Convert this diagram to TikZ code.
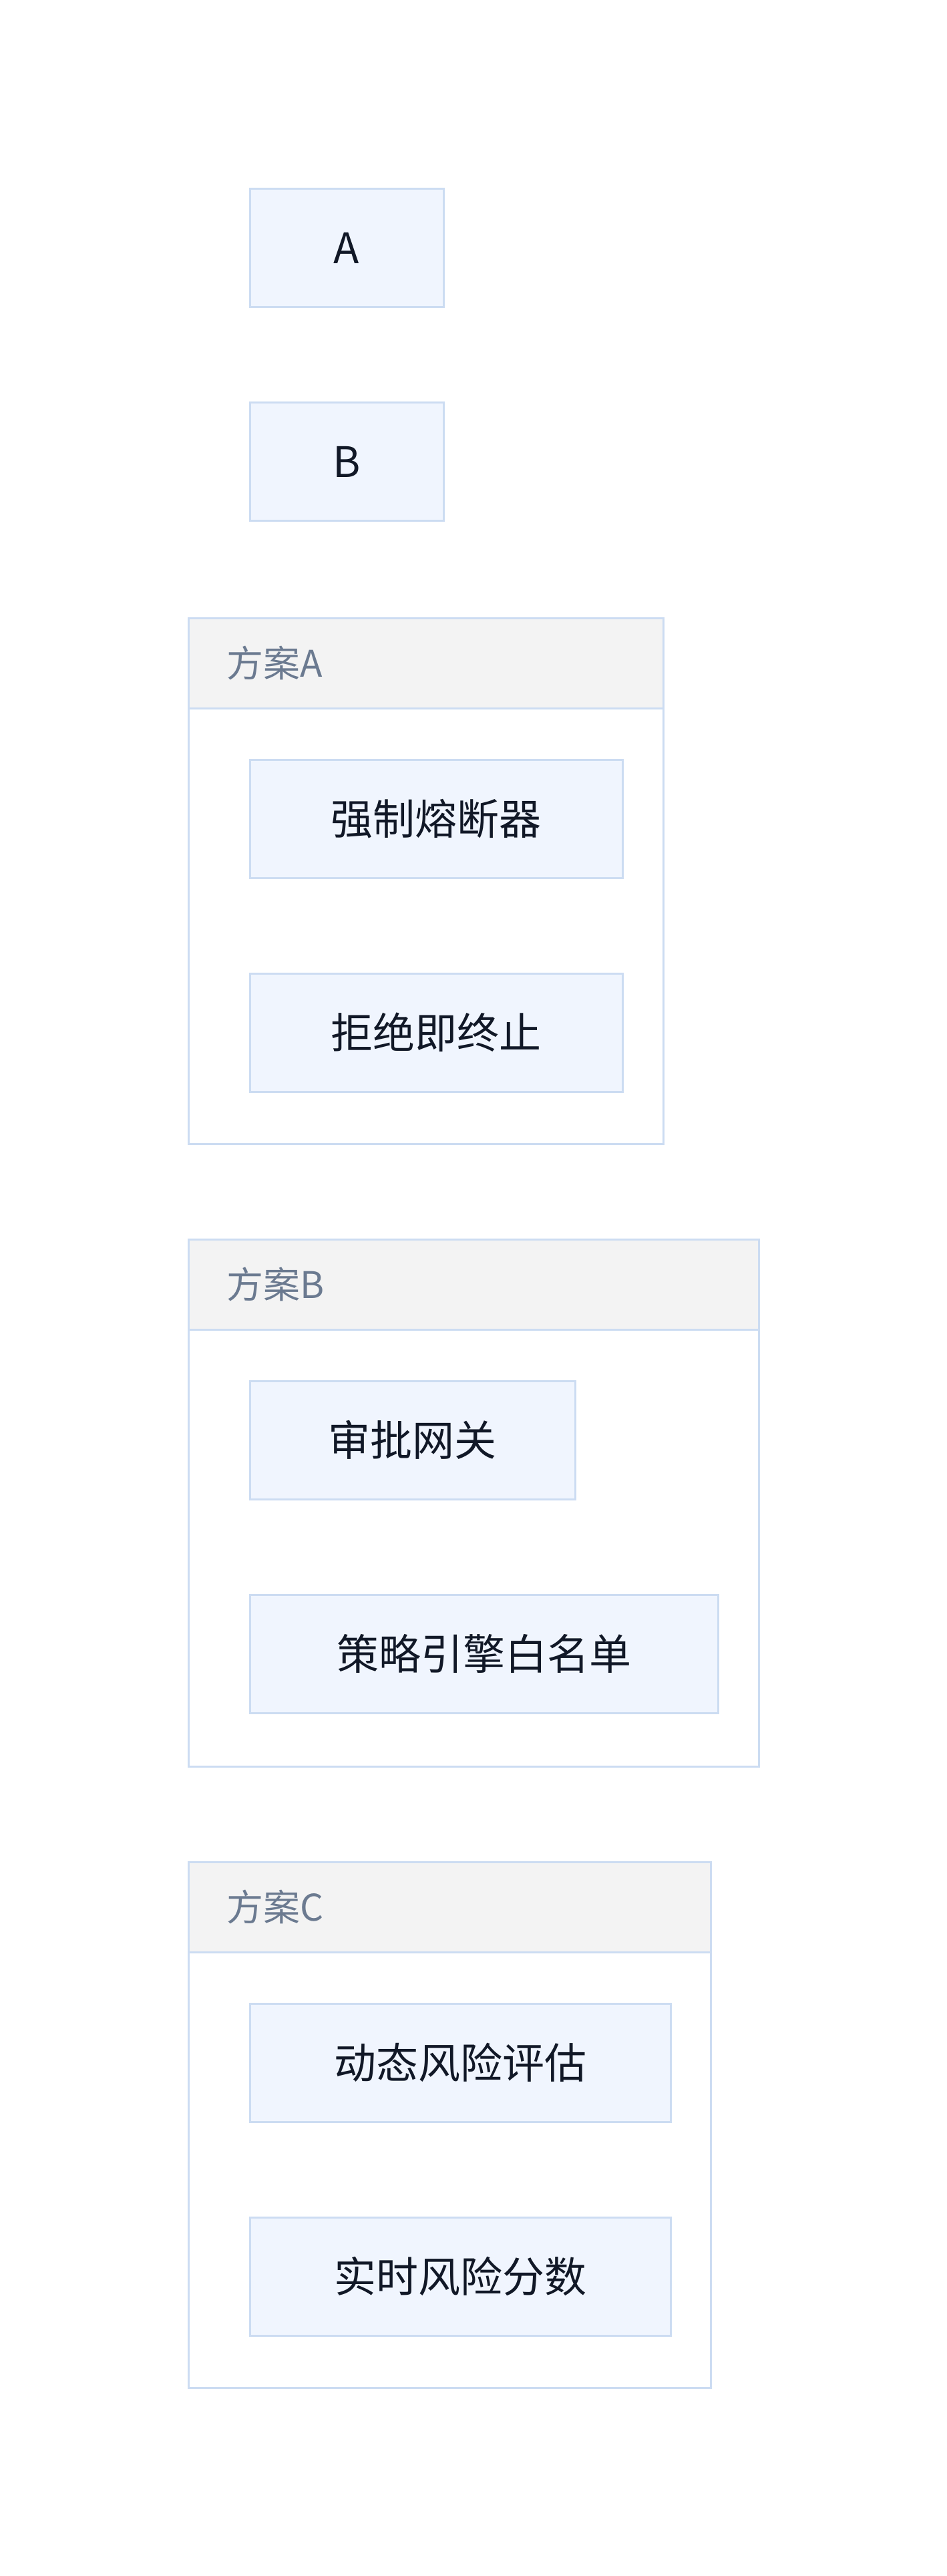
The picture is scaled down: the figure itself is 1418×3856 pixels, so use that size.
\documentclass[tikz,border=0pt]{standalone}
\usepackage{fontspec}
\setmainfont{Noto Sans CJK SC}
\usetikzlibrary{positioning}

\definecolor{boxfill}{HTML}{F0F5FE}
\definecolor{boxline}{HTML}{CCDCF2}
\definecolor{headfill}{HTML}{F3F3F3}
\definecolor{headtext}{HTML}{6B7A90}
\definecolor{ink}{HTML}{111827}

\tikzset{
	stagebox/.style={draw=boxline, fill=boxfill, line width=3pt, outer sep=0pt, inner sep=0pt,
		minimum height=177pt, text=ink, font=\fontsize{63}{76}\selectfont},
	planframe/.style={draw=boxline, fill=white, line width=3pt, outer sep=0pt, inner sep=0pt, anchor=north west},
	planhead/.style={draw=boxline, fill=headfill, line width=3pt, outer sep=0pt, inner sep=0pt,
		anchor=north west, minimum height=135pt},
	plantitle/.style={text=headtext, font=\fontsize{55}{66}\selectfont, anchor=west, inner sep=0pt},
}

\begin{document}
\begin{tikzpicture}[x=1pt, y=1pt]
	\useasboundingbox[fill=white] (0,0) rectangle (1418,-3856);
	\node[stagebox, minimum width=290pt] (A) at (519,-371) {A};
	\node[stagebox, minimum width=290pt, below=143pt of A] (B) {B};
	% plan A
	\node[planframe, minimum width=711pt, minimum height=787pt] (planA) at (282,-925) {};
	\node[planhead, minimum width=711pt] (planAhead) at (planA.north west) {};
	\node[plantitle] (planAtitle) at ([xshift=57pt]planAhead.west) {方案A};
	\node[stagebox, minimum width=558pt, anchor=north west] (fuse) at ([xshift=92pt, yshift=-77pt]planAhead.south west) {强制熔断器};
	\node[stagebox, minimum width=558pt, below=143pt of fuse] (reject) {拒绝即终止};
	% plan B
	\node[planframe, minimum width=854pt, minimum height=789pt] (planB) at (282,-1855) {};
	\node[planhead, minimum width=854pt] (planBhead) at (planB.north west) {};
	\node[plantitle] (planBtitle) at ([xshift=57pt]planBhead.west) {方案B};
	\node[stagebox, minimum width=487pt, anchor=north west] (gate) at ([xshift=92pt, yshift=-77pt]planBhead.south west) {审批网关};
	\node[stagebox, minimum width=701pt, below=143pt of gate.south west, anchor=north west] (policy) {策略引擎白名单};
	% plan C
	\node[planframe, minimum width=782pt, minimum height=787pt] (planC) at (282,-2787) {};
	\node[planhead, minimum width=782pt] (planChead) at (planC.north west) {};
	\node[plantitle] (planCtitle) at ([xshift=57pt]planChead.west) {方案C};
	\node[stagebox, minimum width=630pt, anchor=north west] (assess) at ([xshift=92pt, yshift=-77pt]planChead.south west) {动态风险评估};
	\node[stagebox, minimum width=630pt, below=143pt of assess] (score) {实时风险分数};
\end{tikzpicture}
\end{document}
